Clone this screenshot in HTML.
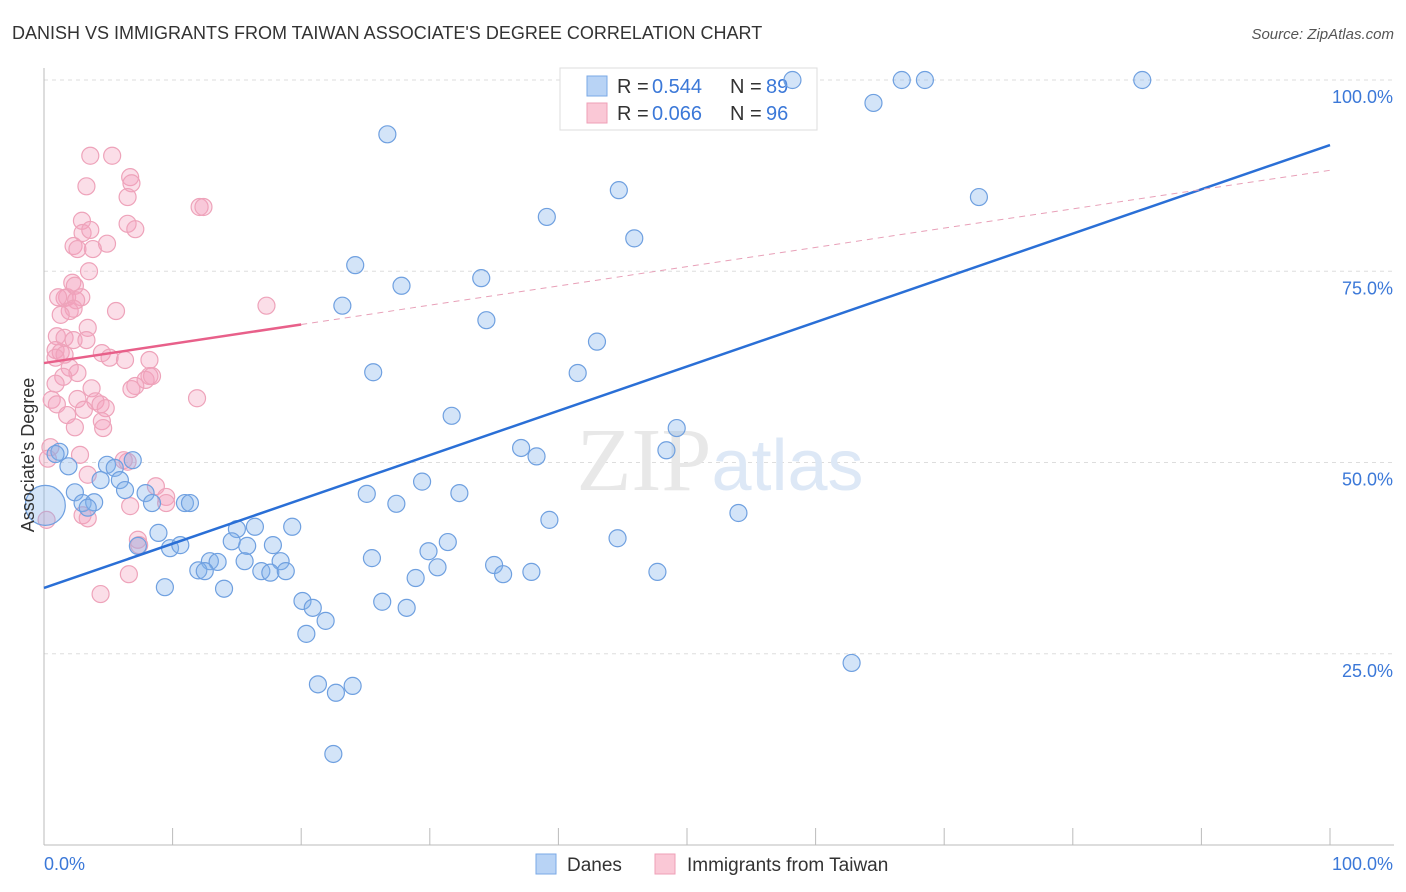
<!DOCTYPE html>
<html><head><meta charset="utf-8"><style>
body{margin:0;background:#fff;font-family:"Liberation Sans",sans-serif;}
svg{display:block}
</style></head><body>
<svg id="chart" width="1406" height="892" xmlns="http://www.w3.org/2000/svg">
<text x="12" y="39" font-size="18" fill="#333">DANISH VS IMMIGRANTS FROM TAIWAN ASSOCIATE'S DEGREE CORRELATION CHART</text>
<text x="1394" y="39" font-size="15" fill="#555" text-anchor="end" font-style="italic">Source: ZipAtlas.com</text>
<g id="grid"></g>
<text x="720" y="490" font-size="90" text-anchor="middle" fill="#e8e8e8" font-family="Liberation Serif">ZIP<tspan fill="#dde8f6" font-family="Liberation Sans" font-size="72">atlas</tspan></text>
<g>
<rect x="560" y="68" width="257" height="62" fill="#fff" stroke="#ddd"/>
<rect x="587" y="76" width="20" height="20" fill="#b8d3f5" stroke="#7aa8e6"/>
<rect x="587" y="103" width="20" height="20" fill="#fac8d6" stroke="#ef9fb7"/>
<text x="617" y="93" font-size="20" fill="#333">R =</text>
<text x="652" y="93" font-size="20" fill="#3b78d8">0.544</text>
<text x="730" y="93" font-size="20" fill="#333">N =</text>
<text x="766" y="93" font-size="20" fill="#3b78d8">89</text>
<text x="617" y="120" font-size="20" fill="#333">R =</text>
<text x="652" y="120" font-size="20" fill="#3b78d8">0.066</text>
<text x="730" y="120" font-size="20" fill="#333">N =</text>
<text x="766" y="120" font-size="20" fill="#3b78d8">96</text>
</g>
<g id="points"></g>
<g id="trends"></g>
<text transform="translate(34,455) rotate(-90)" font-size="18" fill="#333" text-anchor="middle">Associate's Degree</text>
<g>
<rect x="536" y="854" width="20" height="20" fill="#b8d3f5" stroke="#7aa8e6"/>
<text x="567" y="871" font-size="19" fill="#333">Danes</text>
<rect x="655" y="854" width="20" height="20" fill="#fac8d6" stroke="#ef9fb7"/>
<text x="687" y="871" font-size="19" fill="#333">Immigrants from Taiwan</text>
</g>
</svg>
<script>
const yTicks=[25,50,75,100];
const yTickLabels=["25.0%","50.0%","75.0%","100.0%"];
const xTicks=[0,10,20,30,40,50,60,70,80,90,100];
const danesX=[58.2,66.7,68.5,85.4,64.5,26.7,44.7,72.7,39.1,45.9,24.2,34.0,27.8,23.2,34.4,43.0,25.6,41.5,31.7,49.2,37.1,38.3,48.4,1.2,0.9,1.9,4.9,5.5,6.9,4.4,5.9,6.3,2.4,7.9,3.0,3.9,8.4,10.96,11.35,3.4,25.1,29.4,32.3,27.4,39.3,54.0,8.9,15.0,16.4,19.3,14.6,15.8,17.8,31.4,29.9,44.6,7.3,9.8,10.6,12.9,13.5,15.6,18.4,25.5,12.0,12.5,16.9,17.6,18.8,30.6,35.0,35.7,37.9,47.7,28.9,9.4,14.0,20.1,20.9,26.3,28.2,21.9,20.4,62.8,21.3,24.0,22.7,22.5];
const danesY=[100,100,100,100,97.0,92.9,85.6,84.7,82.1,79.3,75.8,74.1,73.1,70.5,68.6,65.8,61.8,61.7,56.1,54.5,51.9,50.8,51.6,51.4,51.1,49.5,49.7,49.3,50.3,47.7,47.7,46.4,46.1,46.0,44.7,44.8,44.7,44.7,44.7,44.1,45.9,47.5,46.0,44.6,42.5,43.4,40.8,41.3,41.6,41.6,39.7,39.1,39.2,39.6,38.4,40.1,39.1,38.8,39.2,37.1,37.0,37.1,37.1,37.5,35.9,35.8,35.8,35.6,35.8,36.3,36.6,35.4,35.7,35.7,34.9,33.7,33.5,31.9,31.0,31.8,31.0,29.3,27.6,23.8,21.0,20.8,19.9,11.9];
const taiwanX=[3.6,5.3,3.3,6.7,6.8,6.5,12.1,12.4,2.95,6.5,3.0,7.1,3.6,2.3,2.6,4.9,3.8,3.5,2.2,1.8,1.6,2.4,2.9,2.5,1.1,2.0,2.3,5.6,17.3,1.3,3.4,1.0,1.6,2.3,3.3,0.9,1.3,1.6,0.9,4.5,5.1,6.3,8.2,2.0,2.6,1.5,8.2,7.9,8.4,7.1,6.8,0.9,3.7,11.9,0.6,1.0,2.6,4.0,4.4,4.8,1.8,3.1,4.5,4.6,2.4,0.5,0.3,2.8,6.5,6.2,3.4,8.7,9.5,9.5,6.7,3.0,3.4,0.2,7.3,7.4,6.6,4.4];
const taiwanY=[90.1,90.1,86.1,87.3,86.5,84.7,83.4,83.4,81.6,81.2,80.0,80.5,80.4,78.3,77.9,78.6,77.9,75.0,73.5,71.6,71.5,73.1,71.6,71.2,71.6,69.8,70.1,69.8,70.5,69.3,67.6,66.5,66.3,66.0,66.0,64.7,64.4,64.1,63.7,64.3,63.7,63.4,63.4,62.4,61.7,61.2,61.3,60.8,61.3,60.0,59.6,60.3,59.7,58.4,58.2,57.6,58.3,58.0,57.6,57.1,56.2,56.9,55.4,54.5,54.6,52.0,50.5,51.0,50.1,50.3,48.4,46.9,45.5,44.7,44.3,43.1,42.7,42.5,39.9,39.2,35.4,32.8];
const danesTrend=[33.6,91.5];
const taiwanTrend=[63.0,88.2];
const taiwanSolidEnd=20;

const NS="http://www.w3.org/2000/svg";
const X0=44,X1=1330,Y0=845,Y100=80;
const sx=v=>X0+(X1-X0)*v/100;
const sy=v=>Y0-(Y0-Y100)*v/100;
function mk(tag,attrs,parent){const e=document.createElementNS(NS,tag);for(const k in attrs)e.setAttribute(k,attrs[k]);parent.appendChild(e);return e;}
const grid=document.getElementById('grid');
yTicks.forEach((t,i)=>{
  const l=mk('line',{x1:X0,x2:1394,y1:sy(t),y2:sy(t),stroke:'#ddd','stroke-dasharray':'4,4'},grid);
  
  
  const tx=mk('text',{x:1393,y:sy(t)+23,'font-size':18,fill:'#3b78d8','text-anchor':'end'},grid);
  tx.textContent=yTickLabels[i];
  
  
});
const ax=mk('line',{x1:X0,x2:X0,y1:68,y2:Y0,stroke:'#bbb'},grid);


const bx=mk('line',{x1:X0,x2:1394,y1:Y0,y2:Y0,stroke:'#bbb'},grid);


xTicks.forEach(t=>{
  const l=mk('line',{x1:sx(t),x2:sx(t),y1:828,y2:Y0,stroke:'#bbb'},grid);
  
  
});
const xl=mk('text',{x:44,y:870,'font-size':18,fill:'#3b78d8'},grid);xl.textContent='0.0%';


const xr=mk('text',{x:1393,y:870,'font-size':18,fill:'#3b78d8','text-anchor':'end'},grid);xr.textContent='100.0%';



const pts=document.getElementById('points');
taiwanX.forEach((x,i)=>{
  const c=mk('circle',{cx:sx(x),cy:sy(taiwanY[i]),r:8.5,fill:'rgba(244,160,188,0.35)',stroke:'#eea3ba','stroke-width':1.2},pts);
  
  
});
danesX.forEach((x,i)=>{
  const c=mk('circle',{cx:sx(x),cy:sy(danesY[i]),r:8.5,fill:'rgba(130,178,236,0.35)',stroke:'#6fa0e0','stroke-width':1.2},pts);
  
  
});
const big=mk('circle',{cx:sx(0.1),cy:sy(44.4),r:20,fill:'rgba(130,178,236,0.35)',stroke:'#6fa0e0','stroke-width':1.2},pts);



const tr=document.getElementById('trends');
const d=mk('line',{x1:sx(0),y1:sy(danesTrend[0]),x2:sx(100),y2:sy(danesTrend[1]),stroke:'#2a6fd6','stroke-width':2.5},tr);


const tY=x=>taiwanTrend[0]+(taiwanTrend[1]-taiwanTrend[0])*x/100;
const t1=mk('line',{x1:sx(0),y1:sy(tY(0)),x2:sx(taiwanSolidEnd),y2:sy(tY(taiwanSolidEnd)),stroke:'#e8608a','stroke-width':2.5},tr);


const t2=mk('line',{x1:sx(taiwanSolidEnd),y1:sy(tY(taiwanSolidEnd)),x2:sx(100),y2:sy(tY(100)),stroke:'#e8a0b8','stroke-width':1,'stroke-dasharray':'6,5'},tr);


</script>
</body></html>
